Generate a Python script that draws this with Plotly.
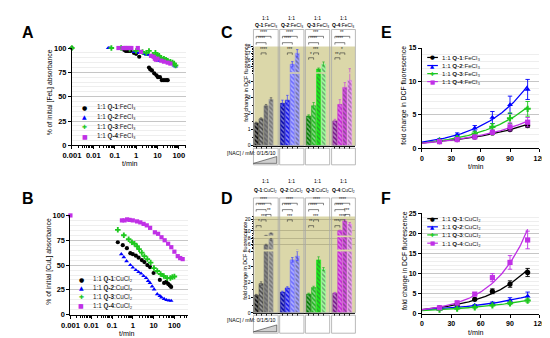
import numpy as np
import plotly.graph_objects as go

W, H = 550, 338
FONT = "Liberation Sans"

# ---------------- data ----------------
SERIES = ["Q-1", "Q-2", "Q-3", "Q-4"]

# A: % of initial [FeL] absorbance vs t/min (FeCl3)
A_Q1_T = [0.001, 0.28, 0.33, 0.38, 0.45, 0.55, 0.8, 1.0, 1.4, 4.0, 4.6, 5.5, 7.0, 9.0, 10.5, 13, 16, 20, 25, 30]
A_Q1_Y = [100, 98, 97, 97, 97, 97, 95, 94, 91, 80, 78, 77, 74, 72, 70, 70, 67, 67, 67, 67]
A_Q2_T = [0.05, 0.06, 0.2, 0.3, 0.5, 0.8, 1.0, 1.4, 2.5, 3, 3.7, 5, 6, 7, 8, 10.5, 12, 15, 20, 25, 30, 44, 50, 59, 70]
A_Q2_Y = [100, 100, 100, 99, 99, 96, 96, 95, 94, 93, 93, 92, 91, 91, 90, 87, 88, 87, 87, 86, 86, 84, 84, 82, 81]
A_Q3_T = [0.001, 0.07, 0.2, 0.5, 1.0, 2, 3, 4, 6, 8, 10, 12, 15, 20, 25, 30, 40, 50, 60, 70]
A_Q3_Y = [100, 100, 100, 99, 97, 96, 95, 97, 93, 95, 93, 92, 90, 89, 88, 87, 86, 85, 84, 82]
A_Q4_T = [0.15, 0.25, 0.3, 0.35, 0.4, 0.5, 0.6, 1.2, 1.7, 5, 6.6, 7.5, 8.5, 10, 15, 20, 30, 40]
A_Q4_Y = [100, 100, 100, 100, 100, 100, 100, 100, 96, 92, 91, 89, 88, 89, 87, 86, 85, 84]

# B: % of initial [CuL] absorbance vs t/min (CuCl2)
B_Q1_T = [0.19, 0.33, 0.52, 0.76, 1.0, 1.4, 1.9, 2.7, 3.6, 5.0, 6.7, 10, 20, 32, 41, 50, 60, 70]
B_Q1_Y = [73, 70, 67, 62, 61, 59.5, 57.5, 55, 53, 50, 48, 42, 35, 32, 33, 31, 29.5, 28]
B_Q2_T = [0.28, 0.37, 0.5, 0.76, 1.0, 1.4, 1.9, 2.5, 3.3, 4.4, 5.5, 6.7, 8.5, 10.6, 15, 20, 24, 32, 42, 55, 70]
B_Q2_Y = [61, 58, 54, 50, 47.5, 45, 43, 41.5, 39, 37, 34, 32, 28.5, 25.5, 20.7, 19, 17.4, 16, 14.8, 14.3, 14]
B_Q3_T = [0.19, 0.37, 0.63, 0.91, 1.2, 1.6, 2.0, 2.7, 3.6, 5.0, 7.2, 10.4, 15, 21.7, 31, 45, 64, 80, 100]
B_Q3_Y = [85.5, 80, 76, 73, 71.5, 69, 66, 62.5, 59, 56, 52.5, 47, 44, 41, 39, 37, 37, 38, 38.5]
B_Q4_T = [0.001, 0.3, 0.4, 0.53, 0.7, 1.0, 1.6, 2.3, 3.3, 4.7, 6.8, 11.5, 16.5, 24, 34, 50, 71, 100, 145, 190, 250]
B_Q4_Y = [100, 95, 95, 96, 95.5, 95, 94, 93, 91.5, 90, 87.5, 83, 81.5, 78, 75, 71.5, 68, 63.5, 59, 57, 56]

# C / D: fold change in DCF fluorescence, NAC 0/1/5/10 mM per group
NAC_LEVELS = ["0", "1", "5", "10"]
C_VAL = [[1.42, 1.68, 2.5, 2.9], [2.65, 2.85, 5.35, 7.0], [1.85, 2.5, 4.65, 5.4], [1.55, 2.58, 3.65, 4.1]]
C_ERR = [[0.05, 0.06, 0.08, 0.1], [0.2, 0.3, 0.4, 0.55], [0.08, 0.2, 0.15, 0.3], [0.1, 0.3, 0.3, 0.6]]
D_VAL = [[1.15, 1.9, 5.8, 7.8], [1.35, 1.62, 3.45, 3.7], [1.22, 1.65, 3.45, 2.85], [1.28, 10.0, 18.5, 16.0]]
D_ERR = [[0.05, 0.12, 0.25, 0.3], [0.06, 0.08, 0.15, 0.3], [0.06, 0.08, 0.2, 0.1], [0.05, 0.6, 1.2, 1.2]]

# significance brackets: (group, bar_from, bar_to, level, stars)
C_SIG = [(0, 0, 3, "h1", "****"), (0, 0, 2, "h2", "****"), (0, 1, 2, "t1", "****"),
         (1, 0, 3, "h1", "****"), (1, 0, 2, "h2", "****"), (1, 1, 2, "t1", "***"),
         (2, 0, 3, "h1", "***"), (2, 0, 2, "h2", "****"), (2, 1, 2, "t1", "***"), (2, 0, 1, "t2", "*"),
         (3, 0, 3, "h1", "**"), (3, 0, 2, "h2", "****"), (3, 1, 2, "t1", "*"), (3, 0, 1, "t2", "**")]
D_SIG = [(0, 0, 3, "h1", "****"), (0, 0, 2, "h2", "****"), (0, 2, 3, "t0", "**"), (0, 1, 2, "t1", "***"), (0, 0, 1, "t2", "*"),
         (1, 0, 3, "h1", "****"), (1, 0, 2, "h2", "****"), (1, 1, 2, "t1", "***"),
         (2, 0, 3, "h1", "****"), (2, 0, 2, "h2", "****"), (2, 1, 2, "t1", "***"), (2, 0, 1, "t2", "**"),
         (3, 0, 3, "h1", "****"), (3, 0, 2, "h2", "****"), (3, 2, 3, "t0", "***"), (3, 1, 2, "t1", "****"), (3, 0, 1, "t2", "***")]

# E / F: fold change vs t/min
EF_T = [18, 36, 54, 72, 90, 108]
E_Y = [[1.0, 1.3, 1.7, 2.3, 2.8, 3.4], [1.3, 2.0, 3.0, 4.6, 6.5, 8.8],
       [1.1, 1.5, 2.2, 3.2, 4.5, 5.9], [1.0, 1.3, 1.7, 2.4, 3.2, 3.9]]
E_ERR = [[0.1, 0.1, 0.15, 0.15, 0.2, 0.25], [0.15, 0.3, 0.4, 0.9, 1.3, 1.5],
         [0.1, 0.2, 0.3, 0.5, 0.8, 1.1], [0.3, 0.2, 0.2, 0.3, 0.6, 0.7]]
F_Y = [[1.5, 2.2, 3.6, 5.6, 7.4, 10.3], [1.2, 1.6, 2.1, 2.6, 3.3, 4.4],
       [1.0, 1.3, 1.6, 2.1, 2.6, 3.3], [1.5, 2.7, 4.9, 9.0, 12.8, 18.4]]
F_ERR = [[0.3, 0.3, 0.3, 0.6, 0.8, 1.0], [0.2, 0.2, 0.2, 0.3, 0.7, 1.0],
         [0.15, 0.15, 0.2, 0.2, 0.3, 0.4], [0.3, 0.5, 0.4, 1.0, 1.7, 2.2]]

# ---------------- style ----------------
COLORS = ["#000000", "#0000ff", "#1ec81e", "#c030e6"]
SYMBOLS = ["circle", "triangle-up", "cross", "square"]
GLYPHS = ["●", "▲", "✚", "■"]
BAR_COLORS = [["#111111", "#4a4a4a", "#858585", "#a3a3a3"],
              ["#0000a8", "#1818ee", "#6c6cff", "#a0a0ff"],
              ["#007800", "#22b422", "#17f017", "#9cff9c"],
              ["#78198a", "#c21fd1", "#d44ce2", "#f0a0f6"]]
ERR_COLORS = ["#555555", "#3c3cff", "#22b422", "#c64ad6"]
TAN = "#dbd7a9"
GROUP_STRIDE = 5.3
FE = "FeCl₃"
CU = "CuCl₂"


def fx(p):
    return p / W


def fy(p):
    return 1 - p / H


def domx(a, b):
    return [fx(a), fx(b)]


def domy(top, bot):
    return [fy(bot), fy(top)]


def tfont(sz, bold=True):
    d = dict(family=FONT, size=sz, color="black")
    if bold:
        d["weight"] = "bold"
    return d


BASE = dict(showline=True, linecolor="black", linewidth=1, ticks="outside", tickcolor="black",
            ticklen=3, tickwidth=1, zeroline=False, showgrid=False)

fig = go.Figure()
ann = []
shp = []
lay = {}


def text(xp, yp, s, size, anchor="center", angle=0, bold=False, family=FONT, color="black", yanchor="middle"):
    f = dict(family=family, size=size, color=color)
    if bold:
        f["weight"] = "bold"
    ann.append(dict(x=fx(xp), y=fy(yp), xref="paper", yref="paper", text=s, showarrow=False,
                    xanchor=anchor, yanchor=yanchor, textangle=angle, font=f, borderpad=0))


# ---------------- panels A & B ----------------
minor_log = [m * 10 ** e for e in range(-3, 3) for m in range(2, 10)]
for (xa, ya, xd, yd, rng, data, leg, ylab, chem, xt) in [
    ("xaxis", "yaxis", (55.5, 173), (37, 137), 2.33,
     [(A_Q1_T, A_Q1_Y), (A_Q2_T, A_Q2_Y), (A_Q3_T, A_Q3_Y), (A_Q4_T, A_Q4_Y)],
     (69, 80, [97.7, 107.7, 117.7, 127.7]), "% of initial [FeL] absorbance", FE, 115),
    ("xaxis2", "yaxis2", (54, 175), (209, 311), 2.65,
     [(B_Q1_T, B_Q1_Y), (B_Q2_T, B_Q2_Y), (B_Q3_T, B_Q3_Y), (B_Q4_T, B_Q4_Y)],
     (65, 76.5, [274.7, 283.4, 292.6, 302]), "% of initial [CuL] absorbance", CU, 112)]:
    xs, ys = xa.replace("axis", ""), ya.replace("axis", "")
    lay[xa] = dict(BASE, domain=domx(*xd), type="log", range=[-3, rng], anchor=ys,
                   tickvals=[0.001, 0.01, 0.1, 1, 10, 100], ticktext=["0.001", "0.01", "0.1", "1", "10", "100"],
                   tickfont=tfont(7.6), minor=dict(tickvals=minor_log, ticks="outside", ticklen=1.8, tickcolor="black"))
    lay[ya] = dict(BASE, domain=domy(*yd), range=[0, 100], anchor=xs, tickvals=[0, 25, 50, 75, 100],
                   tickfont=tfont(7.4), showgrid=True, gridcolor="#c6c6c6", gridwidth=1.3,
                   minor=dict(dtick=5, showgrid=True, gridcolor="#eeeeee", gridwidth=0.8))
    for i, (tt, vv) in enumerate(data):
        fig.add_trace(go.Scatter(x=tt, y=vv, mode="markers", xaxis=xs, yaxis=ys, cliponaxis=False,
                                 marker=dict(symbol=SYMBOLS[i], size=4.2 if i != 2 else 4.6, color=COLORS[i],
                                             line=dict(width=0)),
                                 showlegend=False, hoverinfo="skip"))
    gx, tx, rows = leg
    for i in range(4):
        text(gx, rows[i], GLYPHS[i], 6, family="DejaVu Sans", color=COLORS[i])
        text(tx, rows[i], f"1:1 <b>{SERIES[i]}</b>:{chem}", 6.3, anchor="left", color="#222")
    text(32.5, (yd[0] + yd[1]) / 2 - 4, ylab, 6.8, angle=-90)
    text(xt, yd[1] + 19, "t/min", 7.2)

# ---------------- panels C & D (broken axes) ----------------
XPX0 = 245.3
XPX_PER = 5.1
X_LO = -0.35
X_HI = 20.0
BOXES = [(242.5, 268), (269.5, 294.5), (296, 321), (323, 347.5)]


def bars_panel(xname, segs, vals, errs, sig, levels, top, bottom, headers, chem, box_top, nac_box, title_y):
    xd = (XPX0 + X_LO * XPX_PER, XPX0 + X_HI * XPX_PER)
    first_y = segs[0][0]
    lay["xaxis" + xname[1:]] = dict(BASE, domain=domx(*xd), range=[X_LO, X_HI], anchor=first_y,
                                    tickvals=[g * GROUP_STRIDE + i for g in range(4) for i in range(4)],
                                    showticklabels=False, ticklen=2, tickwidth=0.8, linewidth=0.9)
    for (yname, rng, dtop, dbot, tv, mdt, grid) in segs:
        lay["yaxis" + yname[1:]] = dict(BASE, domain=domy(dtop, dbot), range=rng, anchor=xname,
                                        tickvals=tv, tickfont=tfont(5, bold=False), ticklen=2,
                                        linewidth=0.9, tickwidth=0.8,
                                        showgrid=grid, gridcolor="#b9b58c", gridwidth=0.6,
                                        minor=dict(dtick=mdt, ticks="outside", ticklen=1.2, tickcolor="black"))
        for g in range(4):
            xs = [g * GROUP_STRIDE + i for i in range(4)]
            fig.add_trace(go.Bar(x=xs, y=vals[g], xaxis=xname, yaxis=yname, width=0.84,
                                 marker=dict(color=BAR_COLORS[g], line=dict(color=BAR_COLORS[g], width=0.6),
                                             pattern=dict(shape="\\", fgcolor="white", fillmode="overlay",
                                                          size=3.2, solidity=0.45)),
                                 error_y=dict(type="data", array=errs[g], color=ERR_COLORS[g],
                                              thickness=0.7, width=1.2),
                                 showlegend=False, hoverinfo="skip"))
    # tan background
    shp.append(dict(type="rect", xref="paper", yref="paper", layer="below", x0=fx(xd[0]), x1=fx(xd[1]),
                    y0=fy(bottom), y1=fy(top), fillcolor=TAN, line=dict(width=0)))
    # group boxes, headers, NAC boxes
    for g, (b0, b1) in enumerate(BOXES):
        shp.append(dict(type="rect", xref="paper", yref="paper", x0=fx(b0), x1=fx(b1), y0=fy(bottom),
                        y1=fy(box_top), line=dict(color="#a8a8a8", width=0.8)))
        shp.append(dict(type="rect", xref="paper", yref="paper", x0=fx(b0), x1=fx(b1), y0=fy(nac_box[1]),
                        y1=fy(nac_box[0]), line=dict(color="#a8a8a8", width=0.8)))
        cx = (b0 + b1) / 2
        text(cx, headers[0], "1:1", 5)
        text(cx, headers[1], f"<b>{SERIES[g]}</b>:{chem}", 5)
    # brackets
    for (g, i0, i1, lev, stars) in sig:
        yl = levels[lev]
        x0 = g * GROUP_STRIDE + i0
        x1 = g * GROUP_STRIDE + i1
        shp.append(dict(type="path", xref=xname, yref="paper",
                        path=f"M {x0},{fy(yl + 2)} L {x0},{fy(yl)} L {x1},{fy(yl)} L {x1},{fy(yl + 2)}",
                        line=dict(color="#333333", width=0.6)))
        ann.append(dict(x=(x0 + x1) / 2, y=fy(yl - 0.2), xref=xname, yref="paper", text=stars,
                        showarrow=False, yanchor="bottom", xanchor="center", borderpad=0,
                        font=dict(family=FONT, size=4.6, color="#222222")))
    # NAC label and wedge
    text(266.5, nac_box[0] + 4.8, "[NAC] / mM: " + "/".join(NAC_LEVELS), 5.2, anchor="right")
    shp.append(dict(type="path", xref="paper", yref="paper",
                    path=f"M {fx(242.5)},{fy(nac_box[1] - 1.5)} L {fx(266.5)},{fy(nac_box[1] - 1.5)} "
                         f"L {fx(266.5)},{fy(nac_box[1] - 8.5)} Z",
                    fillcolor="#d0d0d0", line=dict(color="#333333", width=0.6)))
    text(234.5, title_y, "fold change in DCF fluorescence", 5.4, angle=-90)


bars_panel("x3", [("y3", [0, 4.5], 63.5, 137.3, [0, 1, 2, 3, 4], 0.5, False),
                  ("y4", [4.15, 8], 35.5, 62.0, [5, 6, 7, 8], 0.25, False)],
           C_VAL, C_ERR, C_SIG, {"h1": 25, "h2": 31.5, "t1": 42, "t2": 47},
           35.5, 137.3, (5.7, 13.3), FE, 18, (140, 157), 73)
bars_panel("x4", [("y5", [0, 4.0], 246, 309, [0, 1, 2, 3, 4], 0.5, False),
                  ("y6", [4.2, 8.5], 231.5, 244, [6, 8], 0.5, True),
                  ("y7", [6, 22.5], 210, 229.5, [10, 20], 2, True)],
           D_VAL, D_ERR, D_SIG, {"h1": 196.5, "h2": 203, "t0": 208, "t1": 213.5, "t2": 219.5},
           210, 309, (173.7, 182.5), CU, 191, (311.5, 330), 256)

# ---------------- panels E & F ----------------
tfit = np.linspace(0, 108, 80)
for (xa, ya, yd, ymax, ydt, ys_all, es_all, rows, chem) in [
    ("x5", "y8", (37, 140), 15, 5, E_Y, E_ERR, [46.7, 55, 63.3, 71.5], FE),
    ("x6", "y9", (207, 310), 25, 5, F_Y, F_ERR, [212.3, 220.7, 229, 237.5], CU)]:
    lay["xaxis" + xa[1:]] = dict(BASE, domain=domx(416, 537), range=[0, 120], anchor=ya,
                                 tickvals=[0, 30, 60, 90, 120], tickfont=tfont(7))
    lay["yaxis" + ya[1:]] = dict(BASE, domain=domy(*yd), range=[0, ymax], anchor=xa,
                                 tickvals=list(range(0, ymax + 1, ydt)), tickfont=tfont(7),
                                 showgrid=True, gridcolor="#c6c6c6", gridwidth=1.3,
                                 minor=dict(dtick=1, showgrid=True, gridcolor="#eeeeee", gridwidth=0.8))
    for i in range(4):
        yv = np.array(ys_all[i], dtype=float)
        b, a = np.polyfit(np.array(EF_T, dtype=float), np.log(yv), 1)
        fig.add_trace(go.Scatter(x=tfit, y=np.exp(a) * np.exp(b * tfit), mode="lines", xaxis=xa, yaxis=ya,
                                 line=dict(color=COLORS[i], width=1.3), showlegend=False, hoverinfo="skip"))
    for i in range(4):
        fig.add_trace(go.Scatter(x=EF_T, y=ys_all[i], mode="markers", xaxis=xa, yaxis=ya, cliponaxis=False,
                                 marker=dict(symbol=SYMBOLS[i], size=5.2, color=COLORS[i],
                                             line=dict(width=0)),
                                 error_y=dict(type="data", array=es_all[i], color=COLORS[i], thickness=0.9,
                                              width=2.2),
                                 showlegend=False, hoverinfo="skip"))
    for i in range(4):
        shp.append(dict(type="line", xref="paper", yref="paper", x0=fx(421.5), x1=fx(432.5),
                        y0=fy(rows[i]), y1=fy(rows[i]), line=dict(color=COLORS[i], width=1.2)))
        text(427, rows[i], GLYPHS[i], 5.5, family="DejaVu Sans", color=COLORS[i])
        text(436, rows[i], f"1:1 <b>{SERIES[i]}</b>:{chem}", 6.2, anchor="left", color="#222")
    text(398, (yd[0] + yd[1]) / 2 - 3, "fold change in DCF fluorescence", 6.8, angle=-90)
    text(472, yd[1] + 19, "t/min", 7.2)

# panel letters
for s, xp, yp in [("A", 10, 21), ("B", 10, 192), ("C", 215, 21), ("D", 215, 192), ("E", 379.5, 21), ("F", 379.5, 192)]:
    text(xp, yp, s, 16, bold=True)

fig.update_layout(width=W, height=H, margin=dict(l=0, r=0, t=0, b=0), paper_bgcolor="white",
                  plot_bgcolor="rgba(0,0,0,0)", barmode="overlay", showlegend=False,
                  font=dict(family=FONT, color="black"), annotations=ann, shapes=shp, **lay)

fig.write_html("out.html")
